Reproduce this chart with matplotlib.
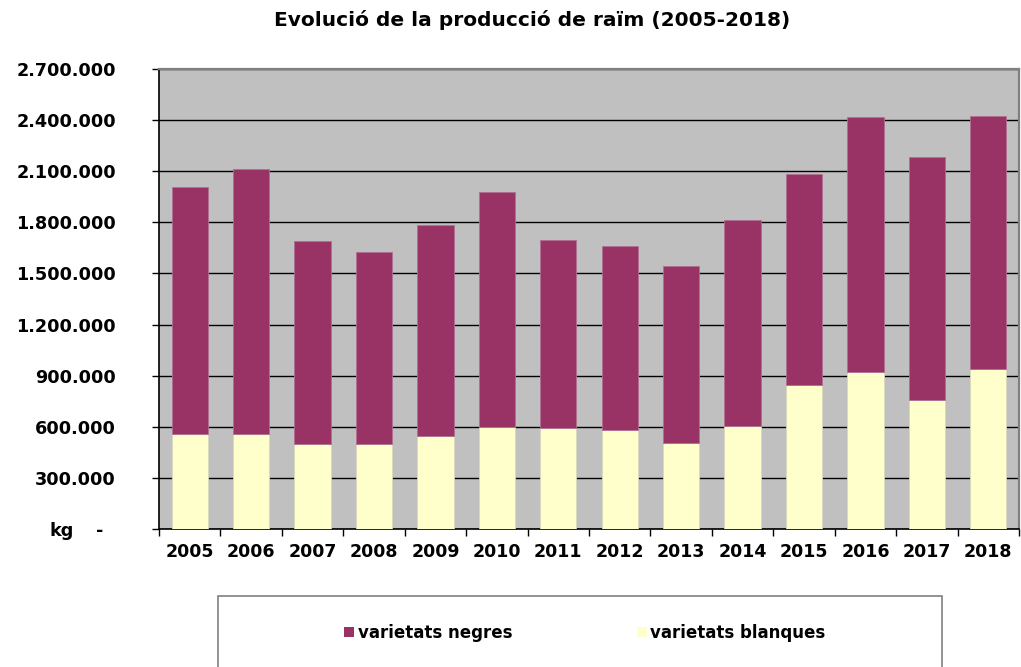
import matplotlib
matplotlib.use("Agg")
import matplotlib.pyplot as plt
from matplotlib.patches import Rectangle, Patch
import numpy as np

years = ["2005", "2006", "2007", "2008", "2009", "2010", "2011",
         "2012", "2013", "2014", "2015", "2016", "2017", "2018"]
blanques = [556000, 556000, 501000, 499000, 546000, 599000, 593000,
            584000, 507000, 603000, 848000, 924000, 757000, 937000]
negres = [1452000, 1556000, 1188000, 1125000, 1241000, 1378000, 1102000,
          1076000, 1039000, 1211000, 1238000, 1495000, 1429000, 1486000]
ytick_vals = [0, 300000, 600000, 900000, 1200000, 1500000, 1800000,
              2100000, 2400000, 2700000]
ytick_labels = ["-  ", "300.000", "600.000", "900.000", "1.200.000", "1.500.000",
                "1.800.000", "2.100.000", "2.400.000", "2.700.000"]

title = "Evolució de la producció de raïm (2005-2018)"
c_neg = "#993366"
c_bla = "#FFFFCC"

plt.rcParams['font.family'] = ['DejaVu Sans']
plt.rcParams['font.weight'] = 'bold'

W, H = 1021, 667
fig = plt.figure(figsize=(W / 100, H / 100), dpi=100)
ax = fig.add_axes([159 / W, 1 - 529 / H, (1019 - 159) / W, (529 - 69) / H])
ax.set_facecolor("#C0C0C0")

x = np.arange(len(years))
bw = 0.59
ax.bar(x, blanques, width=bw, color=c_bla, edgecolor="#d8d8c0", linewidth=0.6, zorder=3)
ax.bar(x, negres, width=bw, bottom=blanques, color=c_neg, edgecolor="#b07090",
       linewidth=0.6, zorder=3)

ax.set_xlim(-0.5, len(years) - 0.5)
ax.set_ylim(0, 2700000)
ax.set_yticks(ytick_vals)
ax.set_yticklabels(ytick_labels, fontsize=12.7, fontweight='bold')
ax.yaxis.grid(True, color="#000000", linewidth=1.0, zorder=1)
ax.set_axisbelow(True)
ax.tick_params(axis='y', direction='out', length=5, width=1, pad=26, colors='black')

ax.set_xticks(np.arange(-0.5, len(years), 1.0))
ax.set_xticklabels([])
ax.set_xticks(x, minor=True)
ax.set_xticklabels(years, minor=True, fontsize=12.5, fontweight='bold')
ax.tick_params(axis='x', which='major', direction='out', length=5, width=1)
ax.tick_params(axis='x', which='minor', length=0, pad=10)

for s in ['left', 'bottom']:
    ax.spines[s].set_color('black')
    ax.spines[s].set_linewidth(1.2)
for s in ['top', 'right']:
    ax.spines[s].set_color('#808080')
    ax.spines[s].set_linewidth(1.6)

fig.text(532 / W, 1 - 20 / H, title, ha='center', va='center', fontsize=14.5,
         fontweight='bold')
fig.text(62 / W, 1 - 531 / H, "kg", ha='center', va='center', fontsize=12.7,
         fontweight='bold')

# legend box
fig.patches.append(Rectangle((218 / W, -0.05), (942 - 218) / W, 0.05 + (667 - 596) / H,
                             transform=fig.transFigure, facecolor='white',
                             edgecolor='#808080', linewidth=1.2, zorder=0))
handles = [Patch(facecolor=c_neg, edgecolor='none', label='varietats negres'),
           Patch(facecolor=c_bla, edgecolor='none', label='varietats blanques')]
fig.legend(handles=handles, loc='center', bbox_to_anchor=(585 / W, 1 - 633 / H),
           ncol=2, frameon=False, prop={'size': 12, 'weight': 'bold'},
           handlelength=0.6, handleheight=0.6, handletextpad=0.2,
           columnspacing=7.5)

fig.savefig("out.png", dpi=100)
